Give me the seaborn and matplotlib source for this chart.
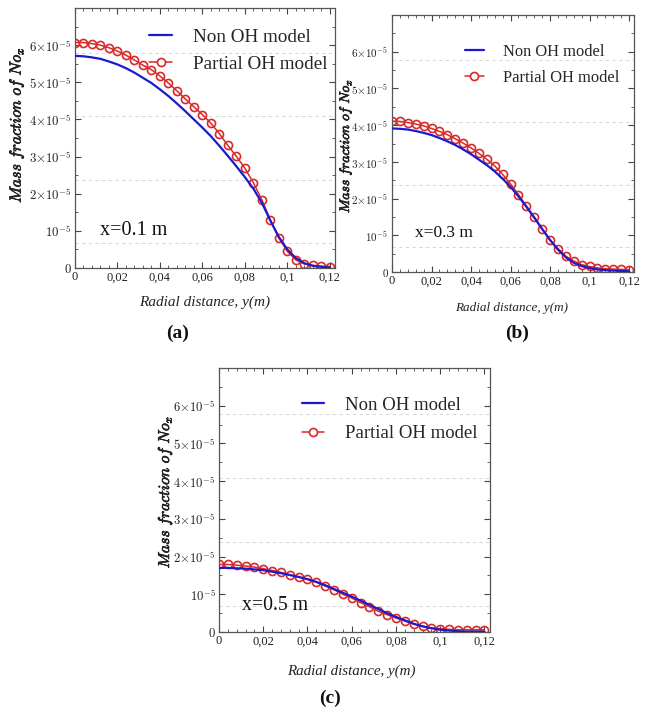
import numpy as np
import pandas as pd
import matplotlib
matplotlib.use("Agg")
import matplotlib.pyplot as plt
import matplotlib.patheffects as pe
import seaborn as sns
from matplotlib.ticker import FixedLocator, MultipleLocator
from matplotlib.lines import Line2D

# ---------------- data ----------------
radial = [0.000, 0.004, 0.008, 0.012, 0.016, 0.020, 0.024, 0.028, 0.032, 0.036,
          0.040, 0.044, 0.048, 0.052, 0.056, 0.060, 0.064, 0.068, 0.072, 0.076,
          0.080, 0.084, 0.088, 0.092, 0.096, 0.100, 0.104, 0.108, 0.112, 0.116, 0.120]

# panel (a) x=0.1 m  (units of 1e-5)
non_oh_a = [5.71, 5.70, 5.67, 5.63, 5.56, 5.48, 5.38, 5.26, 5.12, 4.98,
            4.81, 4.63, 4.43, 4.22, 4.00, 3.78, 3.55, 3.29, 3.02, 2.74,
            2.45, 2.14, 1.76, 1.28, 0.84, 0.50, 0.27, 0.13, 0.06, 0.03, 0.01]
partial_a = [6.07, 6.07, 6.04, 6.00, 5.93, 5.84, 5.73, 5.60, 5.46, 5.34,
             5.17, 4.98, 4.77, 4.55, 4.34, 4.13, 3.90, 3.62, 3.30, 3.01,
             2.69, 2.30, 1.84, 1.30, 0.81, 0.45, 0.22, 0.11, 0.07, 0.05, 0.04]

# panel (b) x=0.3 m
non_oh_b = [3.91, 3.90, 3.88, 3.84, 3.79, 3.73, 3.65, 3.56, 3.46, 3.34,
            3.21, 3.06, 2.91, 2.74, 2.54, 2.32, 2.06, 1.78, 1.48, 1.17,
            0.87, 0.61, 0.40, 0.25, 0.16, 0.11, 0.07, 0.05, 0.04, 0.03, 0.02]
partial_b = [4.11, 4.10, 4.07, 4.03, 3.98, 3.91, 3.83, 3.74, 3.63, 3.51,
             3.38, 3.23, 3.07, 2.89, 2.66, 2.40, 2.11, 1.80, 1.50, 1.18,
             0.88, 0.64, 0.43, 0.30, 0.20, 0.15, 0.11, 0.09, 0.08, 0.07, 0.06]

# panel (c) x=0.5 m
non_oh_c = [1.70, 1.70, 1.69, 1.68, 1.66, 1.64, 1.60, 1.56, 1.51, 1.46,
            1.40, 1.33, 1.24, 1.14, 1.04, 0.94, 0.83, 0.72, 0.61, 0.50,
            0.40, 0.31, 0.22, 0.15, 0.10, 0.06, 0.04, 0.02, 0.01, 0.01, 0.01]
partial_c = [1.79, 1.79, 1.77, 1.75, 1.72, 1.68, 1.63, 1.58, 1.52, 1.46,
             1.40, 1.32, 1.22, 1.12, 1.00, 0.90, 0.78, 0.67, 0.55, 0.46,
             0.37, 0.29, 0.21, 0.15, 0.11, 0.09, 0.07, 0.06, 0.06, 0.06, 0.06]

positions_label = ["x=0.1 m", "x=0.3 m", "x=0.5 m"]
captions = ["(a)", "(b)", "(c)"]
series_names = ["Non OH model", "Partial OH model"]
x_ticks = [0, 0.02, 0.04, 0.06, 0.08, 0.1, 0.12]
x_tick_labels = ["0", "0,02", "0,04", "0,06", "0,08", "0,1", "0,12"]
y_ticks = [0, 1, 2, 3, 4, 5, 6]
y_tick_labels = ["$0$", "$10^{-5}$", r"$2{\times}10^{-5}$", r"$3{\times}10^{-5}$",
                 r"$4{\times}10^{-5}$", r"$5{\times}10^{-5}$", r"$6{\times}10^{-5}$"]
scale = 1e-5

# ---------------- style ----------------
sns.set_theme(style="ticks")
plt.rcParams['font.family'] = ['Liberation Serif', 'DejaVu Serif']
plt.rcParams['mathtext.fontset'] = 'cm'

BLUE = "#1a1ad0"
RED = "#d82a2a"

fig = plt.figure(figsize=(6.49, 7.14), dpi=100)
rects = [
    [75 / 649, 1 - 268 / 714, 260 / 649, 260 / 714],
    [392 / 649, 1 - 272 / 714, 242 / 649, 257 / 714],
    [219 / 649, 1 - 632 / 714, 271 / 649, 264 / 714],
]
panels = [(non_oh_a, partial_a), (non_oh_b, partial_b), (non_oh_c, partial_c)]
fscale = [1.0, 0.86, 0.98]
caption_pos = [(178, 333), (517, 333), (330, 698)]
legend_anchor = [(0.285, 0.922), (0.300, 0.888), (0.305, 0.892)]
legend_spacing = [0.5, 0.6, 0.6]
note_pos = [(0.096, 0.146), (0.095, 0.152), (0.085, 0.102)]
ylabel_pos = [(-0.19, 0.55), (-0.157, 0.49), (-0.166, 0.53)]
xlabel_pos = [(0.50, -0.104), (0.496, -0.115), (0.49, -0.125)]
grid_y = [0.68, 2.38, 4.08, 5.78]

for i, (rect, (blue_vals, red_vals)) in enumerate(zip(rects, panels)):
    s = fscale[i]
    ax = fig.add_axes(rect)
    df = pd.DataFrame({
        "r": radial * 2,
        "v": [v * scale for v in blue_vals] + [v * scale for v in red_vals],
        "model": [series_names[0]] * len(radial) + [series_names[1]] * len(radial),
    })
    sns.lineplot(data=df[df.model == series_names[0]], x="r", y="v", ax=ax,
                 color=BLUE, lw=1.6, zorder=3, legend=False)
    sns.lineplot(data=df[df.model == series_names[1]], x="r", y="v", ax=ax,
                 color=RED, lw=1.1, marker="o", markersize=5.8,
                 markerfacecolor="none", markeredgecolor=RED, markeredgewidth=1.2,
                 zorder=2, legend=False, clip_on=True)
    ax.set_xlim(0, 0.1225)
    ax.set_ylim(0, 7.0 * scale)
    ax.xaxis.set_major_locator(FixedLocator(x_ticks))
    ax.set_xticklabels(x_tick_labels)
    ax.xaxis.set_minor_locator(MultipleLocator(0.004))
    ax.yaxis.set_major_locator(FixedLocator([t * scale for t in y_ticks]))
    ax.set_yticklabels(y_tick_labels)
    ax.yaxis.set_minor_locator(MultipleLocator(0.5 * scale))
    ax.tick_params(which="both", direction="in", top=True, right=True, colors="#444444")
    ax.tick_params(which="major", length=4, width=0.8, labelcolor="#222222", pad=2.5)
    ax.tick_params(which="minor", length=2, width=0.6)
    for lab in ax.get_xticklabels():
        lab.set_fontsize(9)
    for lab in ax.get_yticklabels():
        lab.set_fontsize(9.3 * s)
    for sp in ax.spines.values():
        sp.set_color("#555555")
        sp.set_linewidth(0.9)
    for gy in grid_y:
        ax.axhline(gy * scale, color="#d0d0d0", lw=0.6, ls=(0, (4, 4)), zorder=0)
    ax.set_xlabel("Radial distance, y(m)", fontsize=11 * s, fontstyle="italic",
                  color="#222222", va="top")
    ax.xaxis.set_label_coords(*xlabel_pos[i])
    yl = ax.set_ylabel(r"$Mass\ fraction\ of\ No_x$", fontsize=11.5 * s, color="#222222")
    yl.set_path_effects([pe.withStroke(linewidth=0.5, foreground="#222222")])
    ax.yaxis.set_label_coords(*ylabel_pos[i])
    ax.text(note_pos[i][0], note_pos[i][1], positions_label[i], transform=ax.transAxes,
            fontsize=14.5 * s, color="#111111", ha="left", va="center")
    handles = [Line2D([], [], color=BLUE, lw=1.6),
               Line2D([], [], color=RED, lw=1.1, marker="o", markersize=5.8,
                      markerfacecolor="white", markeredgecolor=RED, markeredgewidth=1.2)]
    ax.legend(handles, series_names, loc="upper left", frameon=False, fontsize=13.8 * s,
              handlelength=1.2, handletextpad=1.1, borderaxespad=0, borderpad=0,
              labelspacing=legend_spacing[i], bbox_to_anchor=legend_anchor[i])
    cx, cy = caption_pos[i]
    fig.text(cx / 649, 1 - cy / 714, captions[i], fontsize=14, fontweight="bold",
             ha="center", va="center", color="#111111")

fig.savefig("out.png", dpi=100)
